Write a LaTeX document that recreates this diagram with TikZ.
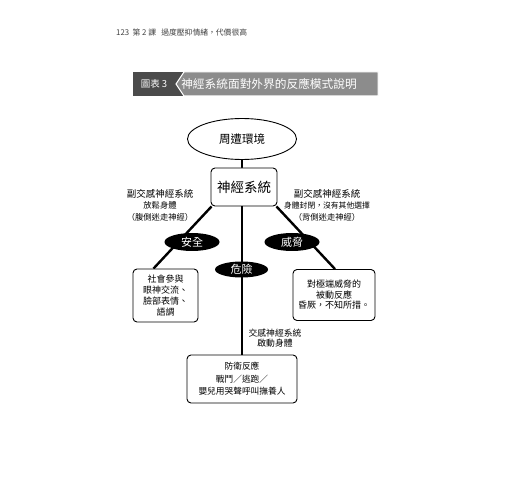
\documentclass[tikz,border=0pt]{standalone}
\usepackage{fontspec}
\setmainfont[Language=Chinese Traditional]{Noto Sans CJK TC}
\usetikzlibrary{shapes.geometric,calc,backgrounds}
\definecolor{bandark}{HTML}{4B4B4B}
\definecolor{banlight}{HTML}{8C8C8C}
\newcommand{\fsz}[2]{\fontsize{#1}{#2}\selectfont}
\begin{document}
\begin{tikzpicture}[x=1pt,y=-1pt,
  conn/.style={line width=2.4pt},
  wbox/.style={draw, rounded corners=4pt, line width=0.9pt, fill=white, align=center, inner sep=0pt},
  blob/.style={ellipse, fill=black, text=white, inner sep=0pt, minimum width=55pt, minimum height=18pt, font=\fsz{11}{13}},
  note/.style={align=center, inner sep=0pt},
  bantext/.style={text=white, inner sep=0pt}
]
\useasboundingbox (0,0) rectangle (520,500);

% header
\node[anchor=west, inner sep=0pt, text=black!75, font=\fsz{7.8}{9}] (hdr) at (116,33) {123\ \ 第 2 課\ \ \ 過度壓抑情緒，代價很高};

% banner
\fill[bandark] (133,72) rectangle (186,96);
\path[fill=banlight, draw=white, line width=1pt] (184,72) -- (378,72) -- (378,96) -- (184,96) -- (176,84) -- cycle;
\node[bantext, font=\fsz{9.5}{11}] (bnum) at (154,84) {圖表 3};
\node[bantext, font=\fsz{11.7}{13}] (btitle) at (269,84) {神經系統面對外界的反應模式說明};

% nodes
\node[draw, ellipse, line width=0.9pt, minimum width=109pt, minimum height=41pt, inner sep=0pt, font=\fsz{11.5}{13}] (env) at (242,139) {周遭環境};
\node[wbox, minimum width=66pt, minimum height=38pt, font=\fsz{13.5}{15}] (ns) at (244,187) {神經系統};

\node[note] (lnote) at (160,205) {{\fsz{9.5}{11}副交感神經系統}\\[-0.5pt]{\fsz{8.3}{10.5}放鬆身體}\\[-0.5pt]{\fsz{8.3}{10.5}（腹側迷走神經）}};
\node[note] (rnote) at (327,205) {{\fsz{9.5}{11}副交感神經系統}\\[-0.5pt]{\fsz{7.8}{10.5}身體封閉，沒有其他選擇}\\[-0.5pt]{\fsz{8.3}{10.5}（背側迷走神經）}};

\node[blob] (safe) at (192,242) {安全};
\node[blob] (threat) at (292,242) {威脅};
\node[blob, minimum width=53pt, minimum height=16pt] (danger) at (241.5,269.5) {危險};

\node[wbox, minimum width=65pt, minimum height=53pt, font=\fsz{9}{11}] (lbox) at (165.5,295.5) {社會參與\\眼神交流、\\臉部表情、\\語調};
\node[wbox, minimum width=82pt, minimum height=51pt, font=\fsz{9}{10.5}] (rbox) at (334,295) {對極端威脅的\\被動反應\\昏厥，不知所措。};

\node[note, font=\fsz{8.8}{10.5}] (mnote) at (275,338) {交感神經系統\\啟動身體};

\node[wbox, minimum width=110pt, minimum height=48pt, font=\fsz{8.7}{12.5}] (bbox) at (242,379) {防衛反應\\戰鬥／逃跑／\\嬰兒用哭聲呼叫撫養人};

% connectors
\begin{scope}[on background layer]
\fill[white] (0,0) rectangle (520,500);
\draw[conn] (env.south) -- (env.south |- ns.north);
\draw[conn] ($(ns.south west)+(1,0)$) -- ($(lbox.north)+(-12,0)$);
\draw[conn] ($(ns.south east)+(-1,0)$) -- ($(rbox.north)+(1,0)$);
\draw[conn] (ns.south -| bbox.north) -- (bbox.north);
\end{scope}
\end{tikzpicture}
\end{document}
